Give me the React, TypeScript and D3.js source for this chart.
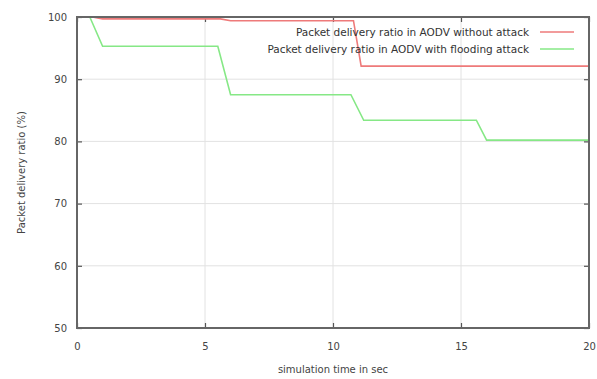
import React, { useEffect, useRef } from "react";
import * as d3 from "d3";

// simulation time (sec) and packet delivery ratio (%)
const noAttackTime = [0, 0.6, 1.0, 5.6, 6.0, 10.8, 11.1, 20];
const noAttackPdr = [100, 100, 99.7, 99.7, 99.4, 99.4, 92.1, 92.1];

const floodTime = [0, 0.5, 1.0, 5.5, 6.0, 10.7, 11.2, 15.6, 16.0, 20];
const floodPdr = [100, 100, 95.3, 95.3, 87.5, 87.5, 83.4, 83.4, 80.2, 80.2];

const xTicks = [0, 5, 10, 15, 20];
const yTicks = [50, 60, 70, 80, 90, 100];

const seriesNames = [
  "Packet delivery ratio in AODV without attack",
  "Packet delivery ratio in AODV with flooding attack",
];
const seriesColors = ["#ee7a7a", "#86e886"];

const W = 597;
const H = 379;
const margin = { top: 17, right: 8, bottom: 51, left: 77 };

const App = () => {
  const ref = useRef<SVGSVGElement>(null);

  useEffect(() => {
    document.body.style.margin = "0";
    const svg = d3.select(ref.current);
    svg.selectAll("*").remove();

    const innerW = W - margin.left - margin.right;
    const innerH = H - margin.top - margin.bottom;

    const x = d3.scaleLinear().domain([0, 20]).range([0, innerW]);
    const y = d3.scaleLinear().domain([50, 100]).range([innerH, 0]);

    const g = svg
      .append("g")
      .attr("transform", `translate(${margin.left},${margin.top})`);

    // grid
    g.append("g")
      .selectAll("line")
      .data(yTicks.slice(1, -1))
      .enter()
      .append("line")
      .attr("x1", 0)
      .attr("x2", innerW)
      .attr("y1", (d) => y(d))
      .attr("y2", (d) => y(d))
      .attr("stroke", "#e2e2e2")
      .attr("stroke-width", 1);
    g.append("g")
      .selectAll("line")
      .data(xTicks.slice(1, -1))
      .enter()
      .append("line")
      .attr("y1", 0)
      .attr("y2", innerH)
      .attr("x1", (d) => x(d))
      .attr("x2", (d) => x(d))
      .attr("stroke", "#e2e2e2")
      .attr("stroke-width", 1);

    // axes with inward ticks (mirrored)
    const styleAxis = (sel) => {
      sel.select(".domain").remove();
      sel.selectAll("line").attr("stroke", "#555").attr("stroke-width", 1.2);
      sel
        .selectAll("text")
        .attr("fill", "#444")
        .style("font-family", "DejaVu Sans, sans-serif")
        .style("font-size", "10px");
    };

    g.append("g")
      .attr("transform", `translate(0,${innerH})`)
      .call(d3.axisBottom(x).tickValues(xTicks).tickSizeInner(-5).tickPadding(15))
      .call(styleAxis);
    g.append("g")
      .call(d3.axisLeft(y).tickValues(yTicks).tickSizeInner(-5).tickPadding(10))
      .call(styleAxis);
    g.append("g")
      .call(d3.axisTop(x).tickValues(xTicks).tickSizeInner(-5).tickFormat(() => ""))
      .call(styleAxis);
    g.append("g")
      .attr("transform", `translate(${innerW},0)`)
      .call(d3.axisRight(y).tickValues(yTicks).tickSizeInner(-5).tickFormat(() => ""))
      .call(styleAxis);

    // lines
    const line = d3
      .line<[number, number]>()
      .x((d) => x(d[0]))
      .y((d) => y(d[1]));

    const series = [
      noAttackTime.map((t, i) => [t, noAttackPdr[i]] as [number, number]),
      floodTime.map((t, i) => [t, floodPdr[i]] as [number, number]),
    ];

    series.forEach((pts, i) => {
      g.append("path")
        .datum(pts)
        .attr("d", line)
        .attr("fill", "none")
        .attr("stroke", seriesColors[i])
        .attr("stroke-width", 1.6);
    });

    // border
    g.append("rect")
      .attr("width", innerW)
      .attr("height", innerH)
      .attr("fill", "none")
      .attr("stroke", "#666")
      .attr("stroke-width", 2);

    // legend
    const legend = g.append("g");
    seriesNames.forEach((name, i) => {
      const ly = 15 + i * 17;
      legend
        .append("text")
        .attr("x", 452)
        .attr("y", ly)
        .attr("dy", "0.35em")
        .attr("text-anchor", "end")
        .attr("fill", "#333")
        .style("font-family", "DejaVu Sans, sans-serif")
        .style("font-size", "10.5px")
        .text(name);
      legend
        .append("line")
        .attr("x1", 463)
        .attr("x2", 497)
        .attr("y1", ly)
        .attr("y2", ly)
        .attr("stroke", seriesColors[i])
        .attr("stroke-width", 1.6);
    });

    // axis labels
    svg
      .append("text")
      .attr("x", margin.left + innerW / 2)
      .attr("y", 373)
      .attr("text-anchor", "middle")
      .attr("fill", "#444")
      .style("font-family", "DejaVu Sans, sans-serif")
      .style("font-size", "10px")
      .text("simulation time in sec");
    svg
      .append("text")
      .attr("transform", `translate(25,${margin.top + innerH / 2}) rotate(-90)`)
      .attr("text-anchor", "middle")
      .attr("fill", "#444")
      .style("font-family", "DejaVu Sans, sans-serif")
      .style("font-size", "10px")
      .text("Packet delivery ratio (%)");
  }, []);

  return <svg ref={ref} width={W} height={H} style={{ display: "block", background: "#fff" }} />;
};

export default App;
